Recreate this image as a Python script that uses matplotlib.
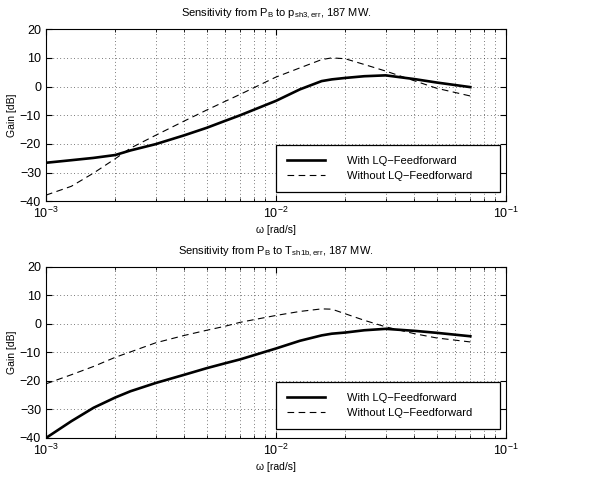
import matplotlib
matplotlib.use("Agg")
import matplotlib.pyplot as plt
import numpy as np

plt.rcParams["font.family"] = ["Liberation Sans", "DejaVu Sans"]
plt.rcParams["mathtext.fontset"] = "custom"
plt.rcParams["mathtext.rm"] = "Liberation Sans"
plt.rcParams["mathtext.it"] = "Liberation Sans"

# frequency grid [rad/s]
omega = [0.001, 0.00129, 0.00161, 0.002, 0.00233, 0.003, 0.004, 0.005, 0.006, 0.007,
         0.01, 0.0127, 0.0158, 0.0175, 0.02, 0.0242, 0.03, 0.04, 0.05, 0.07]

# top: P_B -> p_sh3,err
p_with = [-26.6, -25.7, -24.9, -23.9, -22.3, -20.1, -17.0, -14.4, -12.0, -10.0,
          -5.0, -1.0, 1.9, 2.5, 3.0, 3.6, 3.9, 2.6, 1.4, -0.2]
p_without = [-37.9, -34.8, -30.2, -25.2, -21.5, -17.0, -12.0, -8.2, -5.2, -2.7,
             3.3, 6.5, 9.4, 10.0, 9.7, 7.7, 5.4, 2.0, -0.6, -3.3]

# bottom: P_B -> T_sh1b,err
t_with = [-40.0, -34.1, -29.4, -25.8, -23.6, -20.7, -17.8, -15.5, -13.8, -12.4,
          -8.6, -5.9, -4.0, -3.4, -3.0, -2.2, -1.7, -2.4, -3.1, -4.3]
t_without = [-21.0, -17.8, -14.9, -11.7, -9.8, -6.6, -4.0, -2.2, -0.8, 0.6,
             3.0, 4.4, 5.3, 5.2, 3.6, 1.3, -1.0, -3.4, -4.9, -6.3]

titles = [
    r"Sensitivity from $\mathregular{P_B}$ to $\mathregular{p_{sh3,err}}$, 187 MW.",
    r"Sensitivity from $\mathregular{P_B}$ to $\mathregular{T_{sh1b,err}}$, 187 MW.",
]
labels = ["With LQ\u2212Feedforward", "Without LQ\u2212Feedforward"]

fig = plt.figure(figsize=(5.89, 4.79), dpi=100)
ax_top = fig.add_axes([0.078, 0.580, 0.781, 0.359])
ax_bot = fig.add_axes([0.078, 0.0856, 0.781, 0.357])

for ax, with_ff, without_ff, title in [
    (ax_top, p_with, p_without, titles[0]),
    (ax_bot, t_with, t_without, titles[1]),
]:
    ax.semilogx(omega, with_ff, color="black", lw=1.9, label=labels[0])
    ax.semilogx(omega, without_ff, color="black", lw=0.8, dashes=(6, 4), label=labels[1])
    ax.set_xlim(1e-3, 1e-1)
    ax.set_ylim(-40, 20)
    ax.set_yticks(np.arange(-40, 21, 10))
    ax.grid(True, which="major", axis="both", color="black", ls=(0, (1, 4)), lw=0.5)
    ax.grid(True, which="minor", axis="x", color="black", ls=(0, (1, 4)), lw=0.5)
    ax.tick_params(which="both", direction="in", top=True, right=True, labelsize=9)
    ax.tick_params(which="major", length=4)
    ax.tick_params(which="minor", length=2)
    for s in ax.spines.values():
        s.set_linewidth(0.8)
    ax.set_title(title, fontsize=8, pad=9)
    ax.set_xlabel("\u03c9 [rad/s]", fontsize=7.5, labelpad=3)
    ax.set_ylabel("Gain [dB]", fontsize=7.5, labelpad=2)
    leg = ax.legend(loc="lower left", bbox_to_anchor=(0.5, 0.052, 0.487, 0.274),
                    mode="expand", fontsize=8, frameon=True, fancybox=False,
                    edgecolor="black", framealpha=1, handlelength=3.4,
                    handletextpad=2.0, borderpad=1.0, labelspacing=0.45,
                    borderaxespad=0)
    leg.get_frame().set_linewidth(0.9)

fig.savefig("out.png", dpi=100)
